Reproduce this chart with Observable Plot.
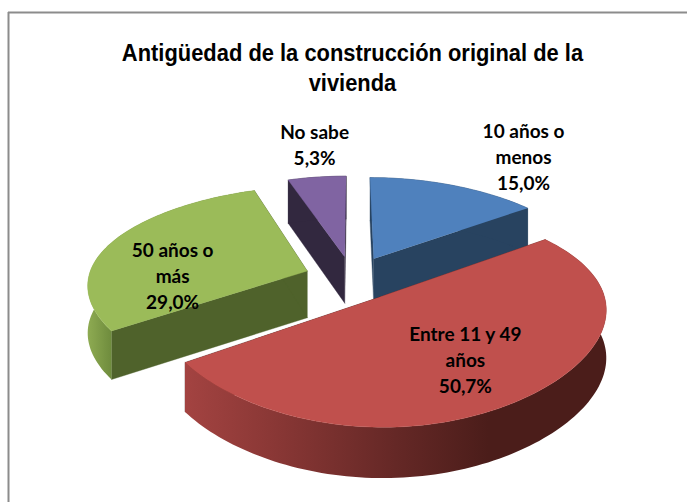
<!DOCTYPE html>
<html>
<head>
<meta charset="utf-8">
<script src="https://cdn.jsdelivr.net/npm/d3@7"></script>
<script src="https://cdn.jsdelivr.net/npm/@observablehq/plot@0.6"></script>
<style>
html,body{margin:0;padding:0;background:#fff;overflow:hidden}
svg{display:block}
</style>
</head>
<body>
<div id="chart"></div>
<script>
const titleText = "Antigüedad de la construcción original de la\nvivienda";
const categories = ["10 años o\nmenos", "Entre 11 y 49\naños", "50 años o\nmás", "No sabe"];
const values = [15.0, 50.7, 29.0, 5.3];
const topColors = ["#4f81bd", "#c0504d", "#9bbb59", "#8064a2"];
const wallColors = ["#284360", "#4b1d1a", "#4f622b", "#32283f"];
const sideFills = ["#284360", "url(#redSide)", "url(#greenSide)", "#32283f"];
const labelAngles = [35.25, 146.3, 271, 351.6];
const labelRadii = [1.833, 0.862, 0.823, 1.698];
const paintOrder = [3, 0, 2, 1];

const W = 687, H = 502;
const view = {cx: 352, cy: 277.5, rx: 219, ry: 101, py: 0.17, explode: 0.22, depth: 47, depthP: 0.07};
const rad = d => d * Math.PI / 180;

function project(X, Y, drop = 0) {
  return {
    x: view.cx + view.rx * (1 + 0.13 * Y - 0.03 * Y * Y) * X,
    y: view.cy + view.ry * Y / (1 - view.py * Y) + drop * view.depth * (1 + view.depthP * Y)
  };
}
const polar = (deg, r) => [r * Math.sin(rad(deg)), -r * Math.cos(rad(deg))];

let acc = 0;
const slices = values.map((v, i) => {
  const a0 = acc / 100 * 360; acc += v;
  const a1 = acc / 100 * 360;
  const [ox, oy] = polar((a0 + a1) / 2, view.explode);
  return {i, a0, a1, ox, oy};
});

function arcPts(s, drop) {
  const n = Math.ceil((s.a1 - s.a0) / 1.5);
  return d3.range(n + 1).map(k => {
    const [X, Y] = polar(s.a0 + (s.a1 - s.a0) * k / n, 1);
    return project(X + s.ox, Y + s.oy, drop);
  });
}
const apex = (s, drop) => project(s.ox, s.oy, drop);
const topFace = s => [apex(s, 0), ...arcPts(s, 0)];
const outerSide = s => [...arcPts(s, 0), ...arcPts(s, 1).reverse()];
const wall = (s, end) => {
  const a = arcPts(s, 0), b = arcPts(s, 1);
  const k = end ? a.length - 1 : 0;
  return [apex(s, 0), a[k], b[k], apex(s, 1)];
};

const poly = (pts, fill) => Plot.line(pts, {x: "x", y: "y", fill, stroke: fill.startsWith("url") ? "none" : fill, strokeWidth: 0.4});

const defs = () => {
  const d = d3.create("svg:defs");
  const grad = (id, stops) => {
    const g = d.append("linearGradient").attr("id", id).attr("x1", 0).attr("x2", 1).attr("y1", 0).attr("y2", 0);
    stops.forEach(([o, c]) => g.append("stop").attr("offset", o).attr("stop-color", c));
  };
  grad("redSide", [[0, "#a34341"], [0.2, "#8b3836"], [0.5, "#652826"], [0.72, "#4b1d1a"], [1, "#4b1d1a"]]);
  grad("greenSide", [[0, "#8eab52"], [0.15, "#6d8a3c"], [1, "#4f622b"]]);
  return d.node();
};

const sliceMarks = paintOrder.flatMap(i => {
  const s = slices[i];
  return [
    poly(wall(s, false), wallColors[i]),
    poly(wall(s, true), wallColors[i]),
    poly(outerSide(s), sideFills[i]),
    poly(topFace(s), topColors[i])
  ];
});

const labels = slices.map(s => {
  const [X, Y] = polar(labelAngles[s.i], labelRadii[s.i]);
  const p = project(X, Y);
  return {...p, text: `${categories[s.i]}\n${values[s.i].toFixed(1).replace(".", ",")}%`};
});

const titleCenter = 352, titleSqueeze = 0.913;
const frameColor = "#8c8c8c";
const chart = Plot.plot({
  width: W, height: H,
  margin: 0,
  x: {domain: [0, W], axis: null},
  y: {domain: [0, H], reverse: true, axis: null},
  style: {background: "#fff", overflow: "hidden"},
  marks: [
    defs,
    Plot.ruleY([12], {x1: 8, x2: W, stroke: frameColor, strokeWidth: 2}),
    Plot.ruleX([8], {y1: 12, y2: H, stroke: frameColor, strokeWidth: 2}),
    ...sliceMarks,
    Plot.text([titleText], {
      text: d => d, frameAnchor: "top", dy: 39, dx: 8.5,
      fontFamily: "Liberation Sans", fontWeight: "bold", fontSize: 24, lineHeight: 1.25, lineAnchor: "top", fill: "#000",
      render(index, scales, values, dimensions, context, next) {
        const g = next(index, scales, values, dimensions, context);
        const wrap = d3.create("svg:g")
          .attr("transform", `translate(${titleCenter},0) scale(${titleSqueeze},1) translate(${-titleCenter},0)`);
        wrap.append(() => g);
        return wrap.node();
      }
    }),
    Plot.text(labels, {
      x: "x", y: "y", text: "text", dy: -2,
      fontFamily: "Lato", fontWeight: "bold", fontSize: 19, lineHeight: 1.37, fill: "#000", lineAnchor: "middle"
    })
  ]
});
document.getElementById("chart").append(chart);
</script>
</body>
</html>
